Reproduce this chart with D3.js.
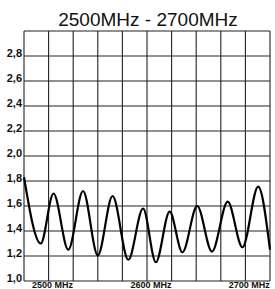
<html>
<head>
    <title>VSWR</title>
    <script src="https://d3js.org/d3.v7.min.js"></script>
    <style>
        body { margin: 0; background: #fff; }
        text { font-family: Arial, "Liberation Sans", Helvetica, sans-serif; }
    </style>
</head>
<body>
    <script>
        // curve (MHz, value)
        const freqs = [2470, 2487, 2500, 2515, 2530, 2545, 2560, 2576, 2591, 2604, 2618, 2631, 2646, 2661, 2677, 2692, 2708, 2720]
        const values = [1.83, 1.30, 1.70, 1.25, 1.72, 1.205, 1.68, 1.17, 1.58, 1.15, 1.555, 1.23, 1.60, 1.235, 1.635, 1.27, 1.755, 1.25]
        const yTicks = [1.0, 1.2, 1.4, 1.6, 1.8, 2.0, 2.2, 2.4, 2.6, 2.8]
        const xLabels = [2500, 2600, 2700]
        const title = '2500MHz - 2700MHz'

        const width = 275, height = 289

        const x = d3.scaleLinear().domain([2470, 2720]).range([24, 270])
        const y = d3.scaleLinear().domain([1.0, 3.0]).range([281, 31])

        const svg = d3.select('body').append('svg')
            .attr('width', width)
            .attr('height', height)

        svg.append('text')
            .attr('x', 148)
            .attr('y', 26)
            .attr('text-anchor', 'middle')
            .attr('font-size', 19)
            .attr('fill', '#111')
            .text(title)

        // vertical grid: 10 equal columns
        const vGrid = d3.range(2470, 2720.1, 25)
        svg.append('g').selectAll('line')
            .data(vGrid)
            .enter().append('line')
            .attr('x1', d => x(d))
            .attr('x2', d => x(d))
            .attr('y1', y(3.0))
            .attr('y2', y(1.0))
            .attr('stroke', '#222')
            .attr('stroke-width', 1.1)

        const hGrid = d3.range(1.0, 3.01, 0.2)
        svg.append('g').selectAll('line')
            .data(hGrid)
            .enter().append('line')
            .attr('x1', x(2470))
            .attr('x2', x(2720))
            .attr('y1', d => y(d))
            .attr('y2', d => y(d))
            .attr('stroke', '#222')
            .attr('stroke-width', 1.1)

        svg.append('g').selectAll('text')
            .data(yTicks)
            .enter().append('text')
            .attr('x', 22)
            .attr('y', d => y(d) + 1)
            .attr('text-anchor', 'end')
            .attr('font-size', 11)
            .attr('font-weight', 'bold')
            .attr('fill', '#111')
            .text(d => d.toFixed(1).replace('.', ','))

        svg.append('g').selectAll('text')
            .data(xLabels)
            .enter().append('text')
            .attr('x', d => x(d) - 1)
            .attr('y', 288)
            .attr('text-anchor', 'middle')
            .attr('font-size', 9)
            .attr('font-weight', 'bold')
            .attr('fill', '#111')
            .text(d => d + ' MHz')

        const line = d3.line()
            .x(d => x(d[0]))
            .y(d => y(d[1]))
            .curve(d3.curveMonotoneX)

        svg.append('path')
            .datum(d3.zip(freqs, values))
            .attr('d', line)
            .attr('fill', 'none')
            .attr('stroke', '#000')
            .attr('stroke-width', 2.2)
    </script>
</body>
</html>
